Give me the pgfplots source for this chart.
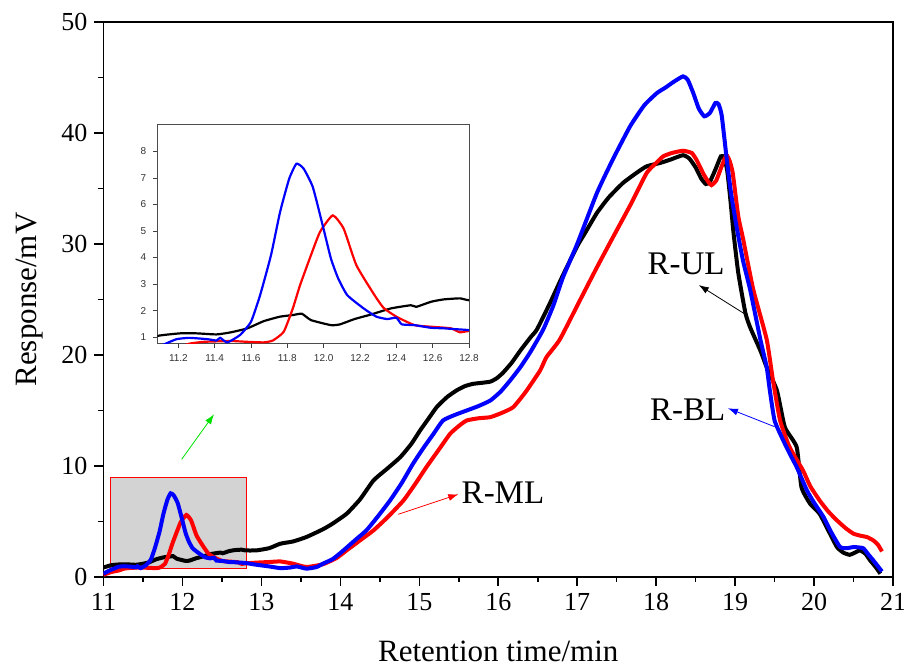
\documentclass[border=0pt]{standalone}
\usepackage{pgfplots}
\pgfplotsset{compat=1.18}
\usepackage{pgfplotstable}
\usepackage{fontspec}
\setmainfont{Liberation Serif}
\newfontfamily\insetfont{Liberation Sans}
\usetikzlibrary{arrows.meta}
\definecolor{boxgray}{RGB}{211,211,211}
\definecolor{arrowgreen}{RGB}{0,225,0}

\pgfplotstableread{
t v
11.00 0.85
11.09 1.05
11.21 1.14
11.30 1.14
11.41 1.10
11.49 1.18
11.58 1.33
11.67 1.60
11.76 1.77
11.83 1.83
11.88 1.88
11.93 1.64
12.04 1.45
12.09 1.48
12.17 1.68
12.26 1.85
12.37 2.08
12.48 2.20
12.51 2.14
12.59 2.33
12.66 2.42
12.75 2.46
12.80 2.39
12.94 2.40
13.10 2.60
13.24 3.00
13.40 3.20
13.57 3.60
13.78 4.30
13.90 4.80
14.08 5.70
14.25 7.00
14.42 8.70
14.60 9.80
14.76 10.80
14.90 12.00
15.01 13.20
15.12 14.30
15.22 15.30
15.35 16.20
15.47 16.80
15.58 17.20
15.68 17.40
15.80 17.50
15.90 17.60
15.98 17.90
16.06 18.40
16.17 19.30
16.28 20.40
16.41 21.60
16.49 22.30
16.65 24.60
16.82 27.20
17.00 29.80
17.10 31.00
17.25 32.80
17.40 34.20
17.58 35.50
17.75 36.40
17.88 37.00
18.05 37.30
18.18 37.60
18.34 38.00
18.42 37.70
18.50 36.90
18.57 35.90
18.63 35.40
18.68 35.60
18.75 36.70
18.82 37.90
18.86 37.80
18.90 36.60
18.94 34.00
18.98 31.00
19.04 27.40
19.13 23.80
19.19 22.50
19.32 20.40
19.40 18.90
19.53 16.80
19.63 13.50
19.78 11.70
19.84 8.10
19.95 6.60
20.07 5.70
20.18 4.20
20.29 2.70
20.37 2.20
20.45 2.00
20.52 2.20
20.58 2.40
20.65 2.10
20.71 1.50
20.78 0.90
20.84 0.30
}\blackdata

\pgfplotstableread{
t v
11.00 0.30
11.08 0.60
11.13 0.75
11.19 0.92
11.26 0.97
11.36 0.92
11.41 0.87
11.43 0.97
11.47 0.80
11.54 1.08
11.60 1.58
11.65 2.58
11.71 4.09
11.76 5.72
11.81 6.97
11.85 7.54
11.89 7.35
11.94 6.66
11.99 5.34
12.04 3.96
12.08 3.21
12.13 2.58
12.22 2.08
12.29 1.77
12.35 1.68
12.40 1.73
12.43 1.48
12.50 1.45
12.59 1.35
12.66 1.33
12.72 1.30
12.80 1.26
12.94 1.10
13.10 0.95
13.24 0.80
13.36 0.85
13.45 0.95
13.57 0.75
13.70 0.90
13.78 1.20
13.90 1.60
13.99 2.10
14.04 2.40
14.20 3.40
14.33 4.20
14.48 5.50
14.63 6.90
14.78 8.50
14.92 10.20
15.05 11.60
15.18 12.90
15.30 14.10
15.45 14.60
15.60 15.00
15.75 15.40
15.90 15.90
16.03 16.70
16.15 17.70
16.28 18.90
16.41 20.30
16.57 22.30
16.70 24.50
16.82 27.00
17.00 30.00
17.25 34.60
17.45 37.60
17.67 40.60
17.85 42.50
18.01 43.60
18.12 44.10
18.22 44.60
18.34 45.10
18.40 44.80
18.47 43.60
18.54 42.20
18.61 41.50
18.68 41.80
18.75 42.70
18.79 42.60
18.83 41.60
18.89 37.90
18.95 34.50
19.02 31.50
19.10 28.50
19.19 25.90
19.32 21.40
19.40 18.90
19.44 16.80
19.50 14.10
19.61 12.30
19.70 11.00
19.78 9.90
19.91 7.80
20.00 6.70
20.12 5.40
20.22 4.00
20.33 2.70
20.42 2.60
20.50 2.70
20.62 2.60
20.68 2.10
20.75 1.50
20.86 0.50
}\bluedata

\pgfplotstableread{
t v
11.00 0.20
11.10 0.45
11.20 0.60
11.26 0.75
11.34 0.82
11.49 0.85
11.58 0.82
11.67 0.80
11.72 0.87
11.78 1.20
11.83 2.08
11.87 2.96
11.93 4.09
11.98 4.97
12.05 5.59
12.11 5.09
12.18 3.71
12.28 2.58
12.33 2.10
12.40 1.77
12.50 1.45
12.59 1.39
12.70 1.33
12.75 1.18
12.80 1.23
12.95 1.30
13.10 1.35
13.24 1.40
13.40 1.20
13.57 0.90
13.78 1.15
13.95 1.70
14.08 2.40
14.25 3.30
14.42 4.20
14.60 5.40
14.80 6.90
14.95 8.40
15.09 9.90
15.25 11.50
15.39 12.90
15.50 13.60
15.60 14.10
15.75 14.30
15.90 14.40
16.05 14.80
16.19 15.30
16.35 16.70
16.53 18.60
16.61 19.80
16.78 21.40
17.04 25.00
17.25 27.90
17.46 30.70
17.68 33.60
17.88 36.40
18.00 37.30
18.09 37.90
18.20 38.20
18.34 38.40
18.45 38.20
18.51 37.60
18.60 36.30
18.66 35.60
18.70 35.30
18.76 35.70
18.83 37.00
18.89 38.00
18.93 37.50
18.97 36.40
19.04 32.50
19.10 30.50
19.23 25.90
19.40 21.40
19.48 17.70
19.57 14.10
19.69 11.70
19.86 9.60
19.95 8.20
20.07 6.90
20.18 5.90
20.29 5.10
20.40 4.40
20.50 3.90
20.60 3.70
20.67 3.60
20.75 3.30
20.81 2.90
20.86 2.30
}\reddata

\begin{document}
\begin{tikzpicture}
\useasboundingbox (-51.75pt,-45pt) rectangle (400.25pt,288.5pt);
\begin{axis}[
  scale only axis, width=394.75pt, height=277.5pt,
  xmin=11, xmax=21, ymin=0, ymax=50,
  xtick={11,...,21}, ytick={0,10,...,50},
  minor xtick={11.5,12.5,...,20.5}, minor ytick={5,15,...,45},
  tick align=outside, tick pos=left,
  major tick length=4.5pt, minor tick length=2.5pt,
  axis line style={line width=0.8pt},
  every tick/.style={black, line width=0.8pt},
  /pgf/number format/assume math mode=true,
  ticklabel style={font=\fontsize{13}{13}\selectfont},
  xlabel={Retention time/min}, ylabel={Response/mV},
  label style={font=\fontsize{15.5}{15.5}\selectfont},
  xlabel style={at={(rel axis cs:0.5,-0.134)}, anchor=center, inner sep=0pt},
  ylabel style={at={(rel axis cs:-0.0931,0.5)}, anchor=center, inner sep=0pt},
]
\draw[red, line width=0.5pt, fill=boxgray] (axis cs:11.09,0.78) rectangle (axis cs:12.81,8.98);
\addplot[black, line width=2pt, smooth, tension=0.3] table {\blackdata};
\addplot[red, line width=2pt, smooth, tension=0.3] table {\reddata};
\addplot[blue, line width=2pt, smooth, tension=0.3] table {\bluedata};
\draw[black, line width=0.4pt, -{Latex[length=5pt,width=3.5pt]}] (axis cs:19.124,23.69) -- (axis cs:18.54,26.3);
\node[font=\fontsize{16.5}{16.5}\selectfont] at (axis cs:18.38,28.2) {R-UL};
\draw[blue, line width=0.4pt, -{Latex[length=5pt,width=3.5pt]}] (axis cs:19.50,13.54) -- (axis cs:18.91,15.2);
\node[font=\fontsize{16.5}{16.5}\selectfont] at (axis cs:18.40,15.1) {R-BL};
\draw[red, line width=0.4pt, -{Latex[length=5pt,width=3.5pt]}] (axis cs:14.734,5.65) -- (axis cs:15.494,7.45);
\node[font=\fontsize{16.5}{16.5}\selectfont] at (axis cs:16.06,7.57) {R-ML};
\draw[arrowgreen, line width=0.4pt, -{Latex[length=5pt,width=3.5pt]}] (axis cs:11.99,10.6) -- (axis cs:12.40,14.66);
\end{axis}
\begin{axis}[
  at={(26.9pt,116.65pt)}, anchor=south west,
  scale only axis, width=155.85pt, height=109.35pt,
  xmin=11.084, xmax=12.8, ymin=0.75, ymax=9,
  xtick={11.2,11.4,11.6,11.8,12.0,12.2,12.4,12.6,12.8},
  xticklabels={11.2,11.4,11.6,11.8,12.0,12.2,12.4,12.6,12.8},
  ytick={1,2,3,4,5,6,7,8},
  tick align=outside, tick pos=left,
  major tick length=2pt,
  every tick/.style={black!75, line width=0.4pt},
  axis line style={black!70, line width=0.5pt},
  axis background/.style={fill=white},
  /pgf/number format/assume math mode=true,
  ticklabel style={font=\insetfont\fontsize{5}{5}\selectfont, text=black!80},
]
\addplot[black, line width=1.1pt, smooth, tension=0.3] table {\blackdata};
\addplot[red, line width=1.1pt, smooth, tension=0.3] table {\reddata};
\addplot[blue, line width=1.1pt, smooth, tension=0.3] table {\bluedata};
\end{axis}
\end{tikzpicture}
\end{document}
